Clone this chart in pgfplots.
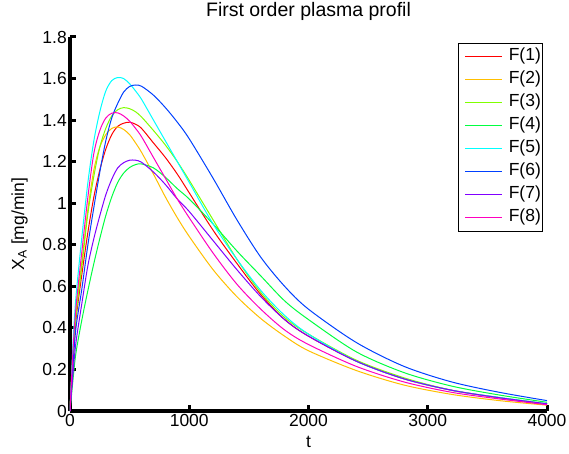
\documentclass[border=0pt]{standalone}
\usepackage{fontspec}
\setmainfont{Liberation Sans}
\usepackage{pgfplots}
\usepackage{pgfplotstable}
\pgfplotsset{compat=1.18}

% MATLAB hsv(8)
\definecolor{c1}{rgb}{1,0,0}
\definecolor{c2}{rgb}{1,0.75,0}
\definecolor{c3}{rgb}{0.5,1,0}
\definecolor{c4}{rgb}{0,1,0.25}
\definecolor{c5}{rgb}{0,1,1}
\definecolor{c6}{rgb}{0,0.25,1}
\definecolor{c7}{rgb}{0.5,0,1}
\definecolor{c8}{rgb}{1,0,0.75}

\newcommand{\legtext}[1]{\makebox[27pt][l]{#1}}

\pgfplotstableread{
t    f1    f2    f3    f4    f5    f6    f7    f8
0    0     0     0     0     0     0     0     0
25   0.25  0.28  0.27  0.15  0.32  0.22  0.18  0.29
50   0.44  0.48  0.46  0.28  0.55  0.40  0.33  0.50
100  0.66  0.72  0.70  0.44  0.84  0.59  0.52  0.77
150  0.86  0.97  0.95  0.58  1.10  0.80  0.70  1.03
200  1.03  1.16  1.13  0.71  1.30  0.98  0.83  1.24
250  1.16  1.27  1.27  0.83  1.44  1.15  0.94  1.35
300  1.26  1.33  1.36  0.94  1.54  1.30  1.04  1.41
350  1.33  1.36  1.42  1.03  1.59  1.41  1.115 1.433
400  1.37  1.367 1.45  1.10  1.605 1.48  1.17  1.435
450  1.385 1.355 1.46  1.145 1.60  1.535 1.195 1.42
500  1.39  1.33  1.455 1.172 1.575 1.562 1.207 1.395
550  1.38  1.29  1.44  1.186 1.54  1.569 1.207 1.36
600  1.36  1.245 1.415 1.189 1.50  1.563 1.197 1.32
700  1.29  1.14  1.35  1.17  1.40  1.52  1.15  1.22
800  1.22  1.03  1.28  1.125 1.30  1.46  1.09  1.12
900  1.14  0.93  1.20  1.07  1.20  1.39  1.02  1.02
1000 1.05  0.84  1.11  1.02  1.10  1.31  0.96  0.93
1200 0.87  0.68  0.92  0.90  0.90  1.12  0.82  0.76
1400 0.71  0.55  0.73  0.77  0.73  0.92  0.68  0.61
1600 0.56  0.445 0.57  0.65  0.58  0.74  0.55  0.49
1800 0.44  0.36  0.45  0.53  0.46  0.60  0.44  0.39
2000 0.36  0.29  0.37  0.44  0.37  0.49  0.36  0.32
2400 0.24  0.195 0.245 0.285 0.24  0.33  0.24  0.215
2800 0.155 0.125 0.16  0.185 0.155 0.215 0.155 0.14
3200 0.10  0.08  0.10  0.12  0.10  0.14  0.10  0.09
3600 0.063 0.05  0.065 0.077 0.065 0.09  0.064 0.058
4000 0.033 0.028 0.035 0.042 0.035 0.05  0.035 0.03
}\profil

\begin{document}
\begin{tikzpicture}
\begin{axis}[
    scale only axis,
    width=477pt, height=374pt,
    xmin=0, xmax=4000, ymin=0, ymax=1.8,
    axis x line=bottom, axis y line=left,
    axis line style={-, line width=3.5pt},
    tick align=inside, major tick length=6pt,
    tick style={black, line width=3pt},
    xtick={0,1000,2000,3000,4000},
    ytick={0,0.2,0.4,0.6,0.8,1,1.2,1.4,1.6,1.8},
    /pgf/number format/assume math mode=true,
    /pgf/number format/set thousands separator={},
    tick label style={font=\fontsize{17.5}{20}\selectfont},
    xticklabel style={inner sep=3pt},
    yticklabel style={inner sep=3pt},
    title={First order plasma profil},
    title style={font=\fontsize{19.5}{22}\selectfont, at={(0.5,1)}, anchor=base, yshift=14pt},
    xlabel={t},
    xlabel style={font=\fontsize{17.5}{20}\selectfont, at={(axis description cs:0.5,0)}, anchor=base, yshift=-36pt},
    ylabel={X$_\mathrm{A}$ [mg/min]},
    ylabel style={font=\fontsize{17.5}{20}\selectfont, at={(axis description cs:-0.0964,0.5)}, anchor=base},
    legend style={at={(0.9895,0.9848)}, anchor=north east,
        font=\fontsize{17.5}{20}\selectfont, row sep=6pt, inner xsep=6pt, inner ysep=5pt,
        nodes={inner sep=0pt, text height=13pt, text depth=4pt}},
    legend cell align=left,
    legend image code/.code={\draw[#1, line width=1.6pt] (0pt,0pt) -- (37pt,0pt);
        \path (43pt,0pt);},
    every axis plot/.append style={line width=1pt, smooth},
]
\addplot[color=c1] table[x=t, y=f1] {\profil};
\addplot[color=c2] table[x=t, y=f2] {\profil};
\addplot[color=c3] table[x=t, y=f3] {\profil};
\addplot[color=c4] table[x=t, y=f4] {\profil};
\addplot[color=c5] table[x=t, y=f5] {\profil};
\addplot[color=c6] table[x=t, y=f6] {\profil};
\addplot[color=c7] table[x=t, y=f7] {\profil};
\addplot[color=c8] table[x=t, y=f8] {\profil};
\legend{\legtext{F(1)},\legtext{F(2)},\legtext{F(3)},\legtext{F(4)},\legtext{F(5)},\legtext{F(6)},\legtext{F(7)},\legtext{F(8)}}
\end{axis}
\pgfresetboundingbox
\path (-70pt,-42pt) rectangle (499pt,411pt);
\end{tikzpicture}
\end{document}
